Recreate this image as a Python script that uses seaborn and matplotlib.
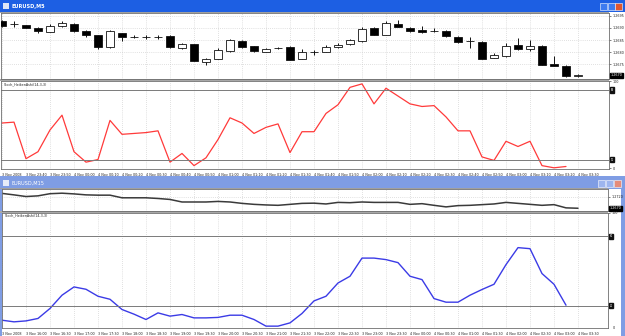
import numpy as np
import pandas as pd
import matplotlib
matplotlib.use("Agg")
import matplotlib.pyplot as plt
import seaborn as sns
from matplotlib.patches import Rectangle

sns.set_style("white")
plt.rcParams['font.family'] = ['DejaVu Sans']

# ---------------- data ----------------
m5_open = [1.26928, 1.26915, 1.26911, 1.26900, 1.26884, 1.26908, 1.26916, 1.26887, 1.26870, 1.26820,
           1.26880, 1.26864, 1.26861, 1.26862, 1.26868, 1.26816, 1.26833, 1.26761, 1.26774, 1.26807,
           1.26845, 1.26825, 1.26802, 1.26816, 1.26823, 1.26774, 1.26800, 1.26802, 1.26820, 1.26833,
           1.26846, 1.26901, 1.26871, 1.26916, 1.26901, 1.26893, 1.26887, 1.26889, 1.26864, 1.26848,
           1.26842, 1.26777, 1.26784, 1.26829, 1.26812, 1.26827, 1.26752, 1.26745, 1.26704]
m5_high = [1.26932, 1.26930, 1.26913, 1.26902, 1.26916, 1.26927, 1.26919, 1.26891, 1.26872, 1.26891,
           1.26881, 1.26870, 1.26870, 1.26872, 1.26870, 1.26839, 1.26834, 1.26775, 1.26819, 1.26854,
           1.26850, 1.26827, 1.26819, 1.26820, 1.26826, 1.26813, 1.26809, 1.26830, 1.26837, 1.26853,
           1.26902, 1.26902, 1.26930, 1.26932, 1.26905, 1.26908, 1.26901, 1.26891, 1.26867, 1.26864,
           1.26845, 1.26796, 1.26837, 1.26860, 1.26850, 1.26830, 1.26785, 1.26748, 1.26711]
m5_low = [1.26904, 1.26902, 1.26898, 1.26878, 1.26882, 1.26905, 1.26884, 1.26864, 1.26813, 1.26819,
          1.26845, 1.26859, 1.26853, 1.26856, 1.26819, 1.26812, 1.26763, 1.26748, 1.26771, 1.26802,
          1.26819, 1.26800, 1.26800, 1.26812, 1.26767, 1.26772, 1.26789, 1.26800, 1.26816, 1.26829,
          1.26843, 1.26870, 1.26870, 1.26902, 1.26883, 1.26879, 1.26882, 1.26864, 1.26839, 1.26816,
          1.26771, 1.26775, 1.26782, 1.26809, 1.26807, 1.26747, 1.26743, 1.26700, 1.26697]
m5_close = [1.26908, 1.26916, 1.26901, 1.26889, 1.26909, 1.26920, 1.26887, 1.26870, 1.26823, 1.26886,
            1.26863, 1.26863, 1.26862, 1.26861, 1.26820, 1.26833, 1.26764, 1.26772, 1.26808, 1.26850,
            1.26823, 1.26805, 1.26815, 1.26817, 1.26768, 1.26800, 1.26801, 1.26823, 1.26831, 1.26850,
            1.26895, 1.26871, 1.26919, 1.26905, 1.26887, 1.26883, 1.26888, 1.26867, 1.26842, 1.26847,
            1.26774, 1.26789, 1.26825, 1.26813, 1.26825, 1.26749, 1.26745, 1.26704, 1.26705]

red_stoch = [52, 53, 11, 19, 44, 61, 19, 7, 10, 55,
             39, 40, 41, 43, 7, 17, 3, 12, 33, 58,
             52, 40, 47, 51, 18, 42, 42, 63, 73, 93,
             97, 74, 92, 83, 74, 71, 72, 59, 43, 43,
             13, 9, 31, 25, 31, 3, 0.5, 2]

m15_close = [1.27338, 1.27273, 1.27200, 1.27230, 1.27325, 1.27347, 1.27316, 1.27273, 1.27260, 1.27260,
             1.27144, 1.27144, 1.27144, 1.27114, 1.27071, 1.26959, 1.26959, 1.26959, 1.26984, 1.26959,
             1.26898, 1.26855, 1.26829, 1.26812, 1.26855, 1.26898, 1.26907, 1.26872, 1.26941, 1.26928,
             1.26959, 1.26941, 1.26941, 1.26941, 1.26855, 1.26885, 1.26812, 1.26743, 1.26799, 1.26812,
             1.26842, 1.26872, 1.26941, 1.26898, 1.26855, 1.26812, 1.26842, 1.26700, 1.26683]

blue_stoch = [7.7, 6.3, 7.1, 9.2, 17.8, 29.2, 36.3, 34.3, 28.3, 25.7,
              16.9, 12.9, 8.3, 14.0, 11.2, 12.6, 9.7, 9.7, 10.1, 12.0,
              12.0, 8.3, 2.6, 2.6, 5.4, 13.5, 24.3, 28.3, 39.7, 45.5,
              61.1, 61.1, 59.8, 57.2, 45.5, 42.6, 26.3, 23.2, 23.2, 29.2,
              34.1, 38.6, 55.5, 70.1, 69.2, 47.8, 38.6, 20.6]

m5_time_labels = ["3 Nov 2008", "3 Nov 23:40", "3 Nov 23:50", "4 Nov 00:00", "4 Nov 00:10",
                  "4 Nov 00:20", "4 Nov 00:30", "4 Nov 00:40", "4 Nov 00:50", "4 Nov 01:00",
                  "4 Nov 01:10", "4 Nov 01:20", "4 Nov 01:30", "4 Nov 01:40", "4 Nov 01:50",
                  "4 Nov 02:00", "4 Nov 02:10", "4 Nov 02:20", "4 Nov 02:30", "4 Nov 02:40",
                  "4 Nov 02:50", "4 Nov 03:00", "4 Nov 03:10", "4 Nov 03:20", "4 Nov 03:30"]
m15_time_labels = ["3 Nov 2008", "3 Nov 16:00", "3 Nov 16:30", "3 Nov 17:00", "3 Nov 17:30",
                   "3 Nov 18:00", "3 Nov 18:30", "3 Nov 19:00", "3 Nov 19:30", "3 Nov 20:00",
                   "3 Nov 20:30", "3 Nov 21:00", "3 Nov 21:30", "3 Nov 22:00", "3 Nov 22:30",
                   "3 Nov 23:00", "3 Nov 23:30", "4 Nov 00:00", "4 Nov 00:30", "4 Nov 01:00",
                   "4 Nov 01:30", "4 Nov 02:00", "4 Nov 02:30", "4 Nov 03:00", "4 Nov 03:30"]

m5_price_ticks = [1.2695, 1.2690, 1.2685, 1.2680, 1.2675]
m15_price_ticks = [1.2720]
last_price_label = "1.2670"
red_levels = [90, 10]
blue_levels = [80, 20]
top_title = "EURUSD,M5"
bottom_title = "EURUSD,M15"
indicator_name = "Stoch_HeikenAshi(14,3,3)"

# ---------------- layout ----------------
W, H = 625, 336
fig = plt.figure(figsize=(W / 100, H / 100), dpi=100)
fig.patch.set_facecolor("white")

bg = fig.add_axes([0, 0, 1, 1], zorder=0)
bg.set_xlim(0, W)
bg.set_ylim(H, 0)
bg.axis("off")


def rect(x0, y0, x1, y1, color, **kw):
    bg.add_patch(Rectangle((x0, y0), x1 - x0, y1 - y0, facecolor=color, edgecolor=kw.pop("ec", "none"),
                           lw=kw.pop("lw", 0), **kw))


def px_axes(x0, y0, x1, y1):
    return fig.add_axes([x0 / W, 1 - y1 / H, (x1 - x0) / W, (y1 - y0) / H], zorder=2)


ACTIVE = "#1D5FE3"
INACTIVE = "#7F9DE4"
GRIDC = "#C4C4C4"
FS = 2.4

# window chrome
rect(0, 0, W, 12, ACTIVE)
rect(0, 176, W, 189, INACTIVE)
rect(0, 176, 2, H, INACTIVE)
rect(621, 176, W, H, INACTIVE)
rect(0, 79, 609, 81, "#A8A8A8")
rect(0, 210.5, 608, 212.5, "#A8A8A8")
rect(0, 12, 609, 13, "#A0A0A0")
rect(0, 188, 608, 189, "#A0A0A0")
# title bar icons and buttons
rect(2.5, 3, 9, 9, "#DDE6F7")
bg.text(12, 6.2, top_title, color="white", fontsize=3.6, va="center", ha="left", fontweight="bold")
bg.text(12, 182.8, bottom_title, color="white", fontsize=3.6, va="center", ha="left")
for bx, c in [(600, "#3D7BF0"), (607.5, "#3D7BF0"), (615, "#E0562E")]:
    rect(bx, 2.5, bx + 7, 10, c, ec="white", lw=0.4)
for bx, c in [(598, "#9DB5EE"), (606, "#9DB5EE"), (614, "#E68C7A")]:
    rect(bx, 180, bx + 7, 187, c, ec="white", lw=0.4)
rect(2.5, 179.5, 9, 186, "#E6ECF9")

# common x range: pixel p -> bar (p-2)/12
def x_of(p):
    return (p - 2) / 12.0

xticks = list(range(0, 49, 2))


def style_panel(ax, xl, xr):
    ax.set_facecolor("white")
    ax.set_xlim(x_of(xl), x_of(xr))
    ax.set_xticks(xticks)
    ax.grid(True, axis="x", linestyle=(0, (1, 2)), color=GRIDC, lw=0.5)
    for s in ax.spines.values():
        s.set_color("#6E6E6E")
        s.set_linewidth(0.6)
    ax.yaxis.tick_right()
    ax.tick_params(axis="y", labelsize=FS, length=1.5, width=0.4, pad=1, colors="#222222")
    ax.tick_params(axis="x", length=0)
    ax.set_xticklabels([])
    ax.set_xlabel("")
    ax.set_ylabel("")


def time_axis(ax, labels):
    ax.set_xticks(xticks)
    ax.set_xticklabels(labels, fontsize=FS, ha="left", color="#222222")
    ax.tick_params(axis="x", length=2, width=0.4, pad=1, direction="out")


def level_box(ax, y, text):
    ax.text(1.003, y, text, transform=ax.get_yaxis_transform(), fontsize=1.8, color="white",
            va="center", ha="left", bbox=dict(facecolor="#111111", edgecolor="#111111", pad=0.4))


# ---- panel 1: M5 candles ----
idx = np.arange(len(m5_open))
o = np.array(m5_open); c = np.array(m5_close)
hi = np.array(m5_high); lo = np.array(m5_low)
ax1 = px_axes(1, 13, 609, 79)
style_panel(ax1, 1, 609)
ax1.set_ylim(1.266905, 1.269611)
ax1.set_yticks(m5_price_ticks)
ax1.set_yticklabels([f"{v:.4f}" for v in m5_price_ticks])
ax1.grid(True, axis="y", linestyle=(0, (1, 2)), color=GRIDC, lw=0.5)
ax1.vlines(idx, lo, hi, colors="#111111", lw=0.7, zorder=2)
bull = c >= o
body_h = np.maximum(np.abs(c - o), 0.000005)
ax1.bar(idx, body_h, bottom=np.minimum(o, c), width=0.68,
        color=np.where(bull, "white", "black"), edgecolor="#111111", lw=0.6, zorder=3)
level_box_price = m5_close[-1]
ax1.text(1.003, level_box_price, last_price_label, transform=ax1.get_yaxis_transform(), fontsize=FS,
         color="white", va="center", ha="left", bbox=dict(facecolor="black", edgecolor="black", pad=0.3))

# ---- panel 2: red stochastic ----
ax2 = px_axes(1, 81, 609, 168.5)
style_panel(ax2, 1, 609)
ax2.set_ylim(-0.3, 100.3)
ax2.set_yticks([100, 0])
ax2.set_yticklabels(["100", "0"])
df_red = pd.DataFrame({"bar": np.arange(len(red_stoch)), "value": red_stoch})
sns.lineplot(data=df_red, x="bar", y="value", ax=ax2, color="#FF3A3A", lw=0.9, estimator=None)
for lv in red_levels:
    ax2.axhline(lv, color="#7A7A7A", lw=0.7)
    level_box(ax2, lv, str(lv))
ax2.text(0.004, 0.985, indicator_name, transform=ax2.transAxes, fontsize=FS, va="top", ha="left")
ax2.set_xlabel(""); ax2.set_ylabel("")
time_axis(ax2, m5_time_labels)

# ---- panel 3: M15 line ----
ax3 = px_axes(2, 189, 608, 210.5)
style_panel(ax3, 2, 608)
ax3.set_ylim(1.265837, 1.275319)
ax3.set_yticks(m15_price_ticks)
ax3.set_yticklabels([f"{v:.4f}" for v in m15_price_ticks])
ax3.grid(True, axis="y", linestyle=(0, (1, 2)), color=GRIDC, lw=0.5)
df_m15 = pd.DataFrame({"bar": np.arange(len(m15_close)), "close": m15_close})
sns.lineplot(data=df_m15, x="bar", y="close", ax=ax3, color="#3A3A3A", lw=1.1, estimator=None)
ax3.text(1.003, m15_close[-1], last_price_label, transform=ax3.get_yaxis_transform(), fontsize=FS,
         color="white", va="center", ha="left", bbox=dict(facecolor="black", edgecolor="black", pad=0.3))
ax3.set_xlabel(""); ax3.set_ylabel("")

# ---- panel 4: blue stochastic ----
ax4 = px_axes(2, 212.5, 608, 328)
style_panel(ax4, 2, 608)
ax4.set_ylim(1.0, 100.3)
ax4.set_yticks([100])
ax4.set_yticklabels(["100"])
df_blue = pd.DataFrame({"bar": np.arange(len(blue_stoch)), "value": blue_stoch})
sns.lineplot(data=df_blue, x="bar", y="value", ax=ax4, color="#3B3BE6", lw=1.0, estimator=None)
for lv in blue_levels:
    ax4.axhline(lv, color="#7A7A7A", lw=0.7)
    level_box(ax4, lv, str(lv))
ax4.text(0.004, 0.995, indicator_name, transform=ax4.transAxes, fontsize=FS, va="top", ha="left")
ax4.text(1.008, 0.0, "0", transform=ax4.transAxes, fontsize=FS, va="center", ha="left", color="#222222")
ax4.set_xlabel(""); ax4.set_ylabel("")
time_axis(ax4, m15_time_labels)

fig.savefig("out.png", dpi=100, facecolor=fig.get_facecolor())
